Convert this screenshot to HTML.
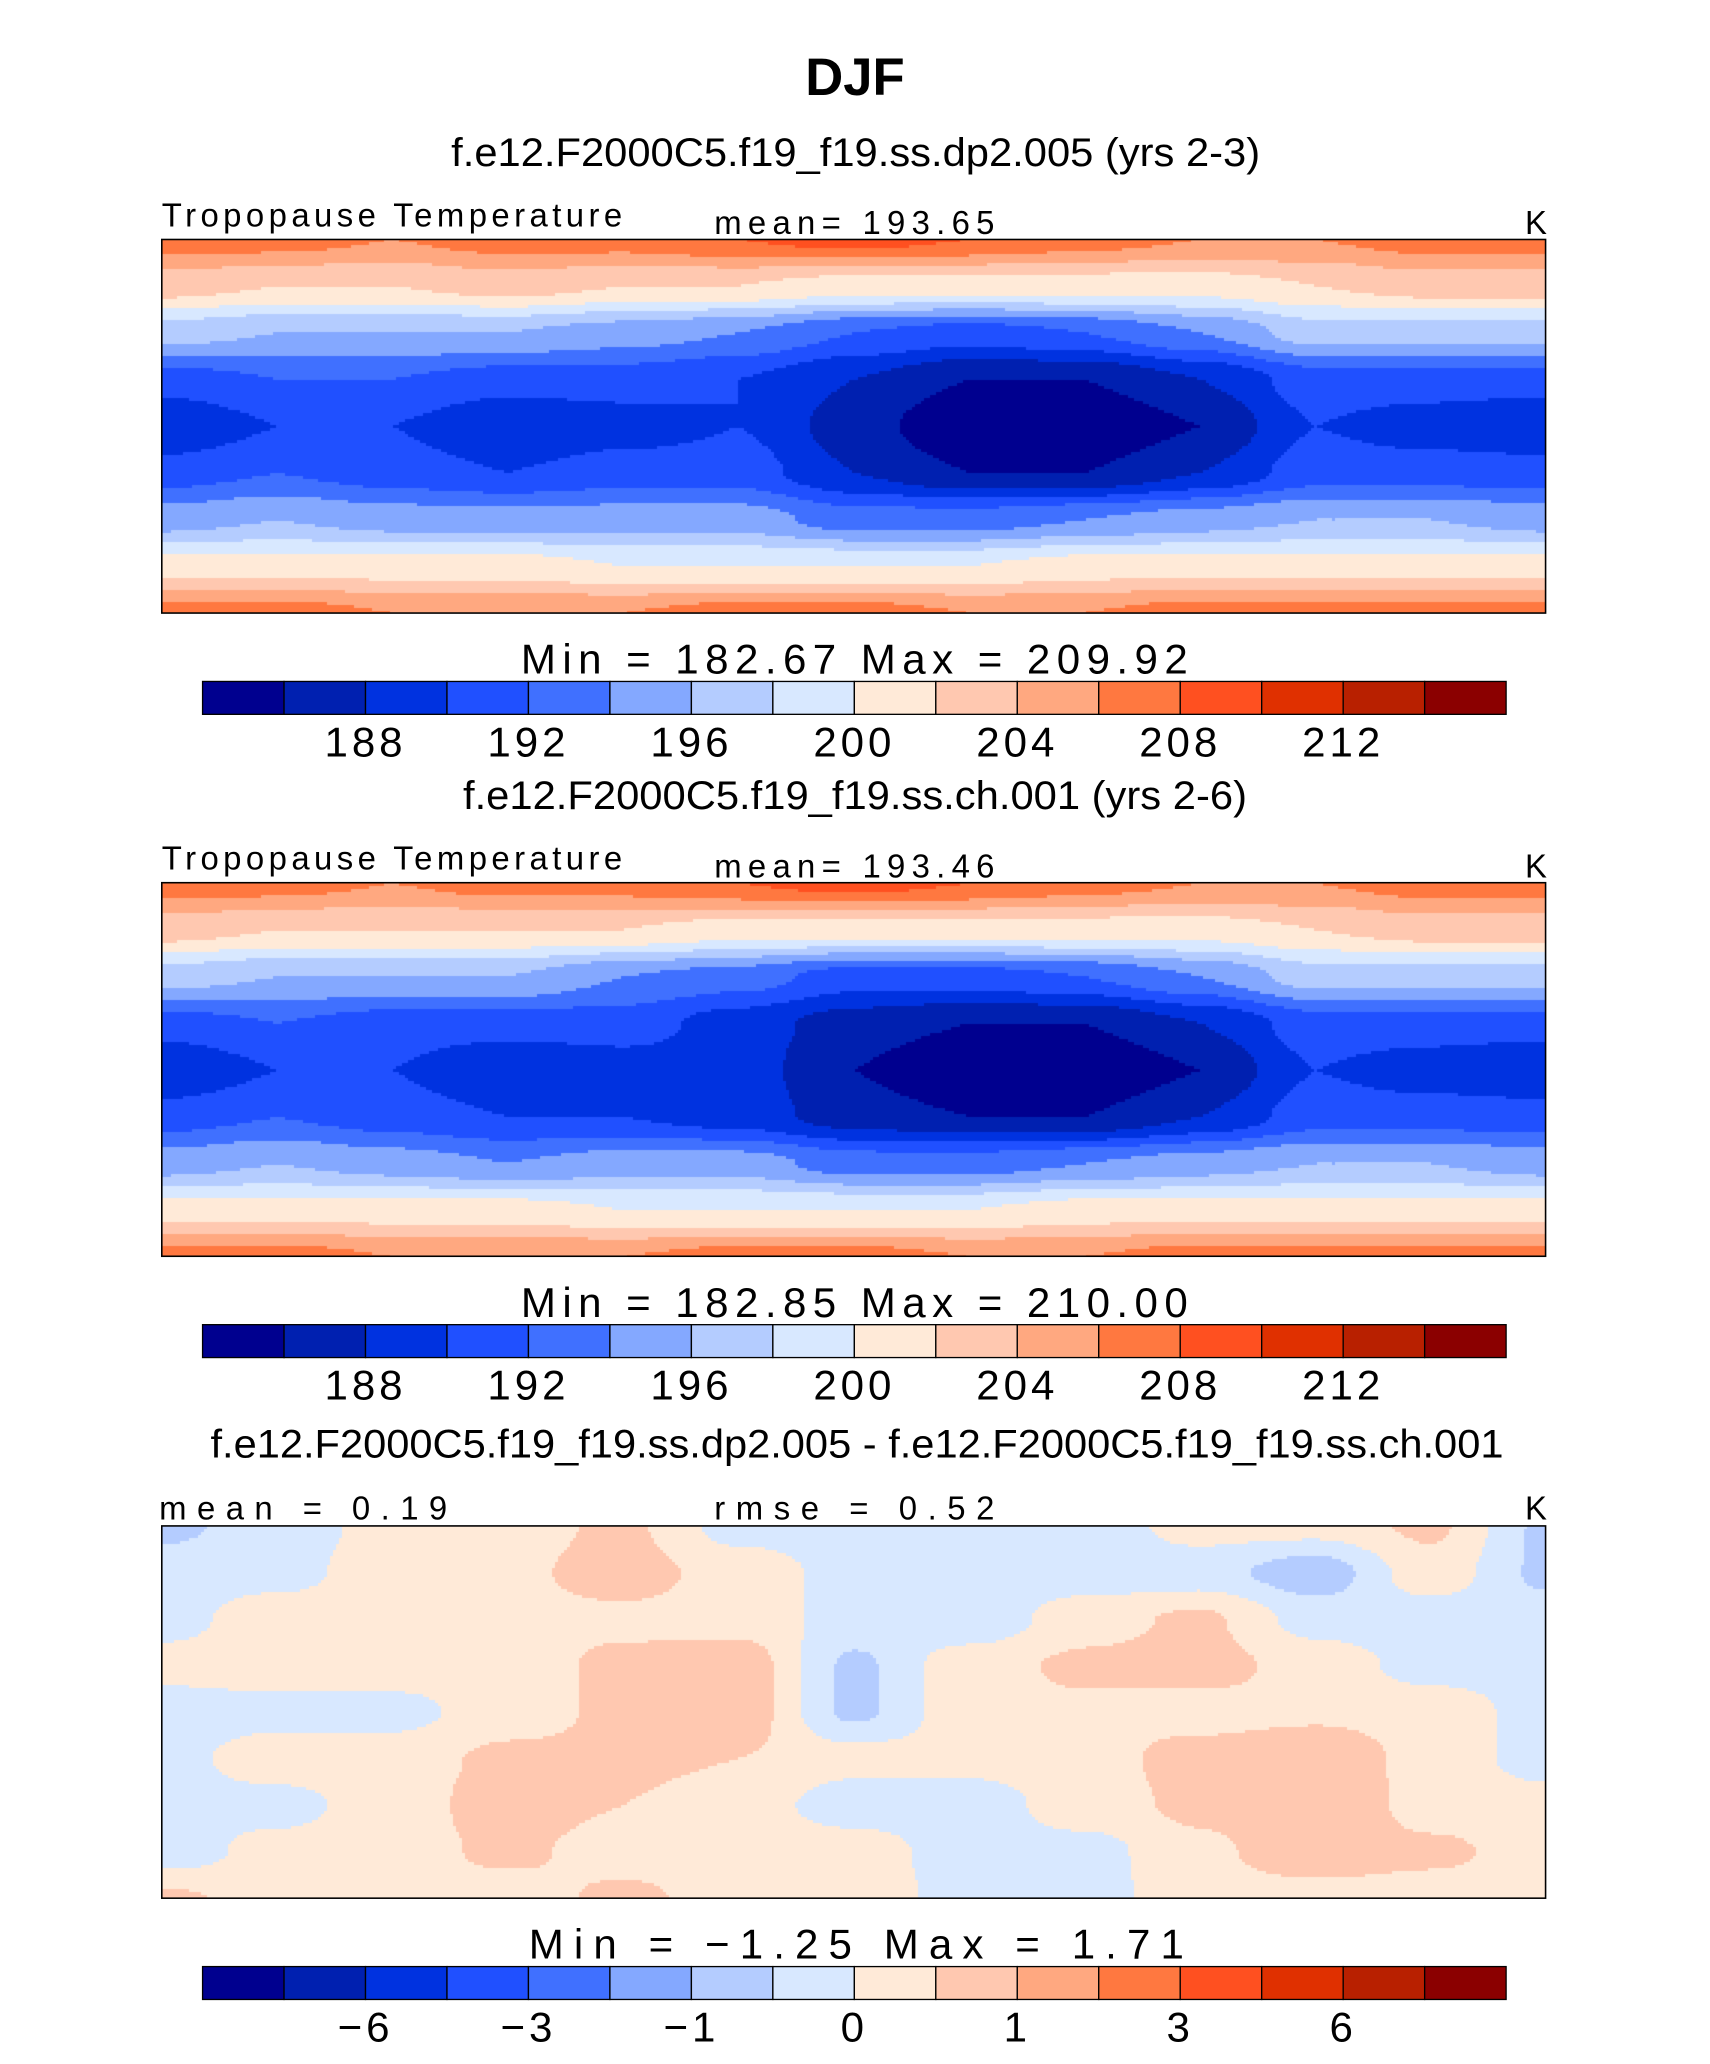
<!DOCTYPE html>
<html><head><meta charset="utf-8">
<style>
html,body{margin:0;padding:0;background:#fff;}
#wrap{position:relative;width:1710px;height:2064px;overflow:hidden;}
svg{position:absolute;left:0;top:0;}
canvas{position:absolute;}
</style></head>
<body>
<div id="wrap">
<canvas id="m1"></canvas>
<canvas id="m2"></canvas>
<canvas id="m3"></canvas>
<svg id="ov" width="1710" height="2064" viewBox="0 0 1300 1569" font-family="Liberation Sans, sans-serif">
<text x="650" y="72" font-size="40" font-weight="bold" text-anchor="middle">DJF</text>
<text x="343" y="126" font-size="30" textLength="615" lengthAdjust="spacingAndGlyphs">f.e12.F2000C5.f19_f19.ss.dp2.005 (yrs 2-3)</text>
<text x="123" y="172" font-size="25" textLength="350" lengthAdjust="spacing">Tropopause  Temperature</text>
<text x="543" y="178" font-size="25" textLength="213" lengthAdjust="spacing">mean=  193.65</text>
<text x="1176" y="178" font-size="25" text-anchor="end">K</text>
<text x="396" y="512" font-size="32" textLength="507" lengthAdjust="spacing">Min  =  182.67  Max  =  209.92</text>
<text x="352" y="615" font-size="30" textLength="596" lengthAdjust="spacingAndGlyphs">f.e12.F2000C5.f19_f19.ss.ch.001 (yrs 2-6)</text>
<text x="123" y="661" font-size="25" textLength="350" lengthAdjust="spacing">Tropopause  Temperature</text>
<text x="543" y="667" font-size="25" textLength="213" lengthAdjust="spacing">mean=  193.46</text>
<text x="1176" y="667" font-size="25" text-anchor="end">K</text>
<text x="396" y="1001" font-size="32" textLength="507" lengthAdjust="spacing">Min  =  182.85  Max  =  210.00</text>
<text x="160" y="1108" font-size="30" textLength="983" lengthAdjust="spacingAndGlyphs">f.e12.F2000C5.f19_f19.ss.dp2.005 - f.e12.F2000C5.f19_f19.ss.ch.001</text>
<text x="121" y="1155" font-size="25" textLength="219" lengthAdjust="spacing">mean  =     0.19</text>
<text x="543" y="1155" font-size="25" textLength="213" lengthAdjust="spacing">rmse  =     0.52</text>
<text x="1176" y="1155" font-size="25" text-anchor="end">K</text>
<text x="402" y="1489" font-size="32" textLength="498" lengthAdjust="spacing">Min  =    −1.25  Max  =     1.71</text>
<g id="bars"></g>
<rect x="123" y="182" width="1052" height="284" fill="none" stroke="#000" stroke-width="1.2"/>
<rect x="123" y="671" width="1052" height="284" fill="none" stroke="#000" stroke-width="1.2"/>
<rect x="123" y="1160" width="1052" height="283" fill="none" stroke="#000" stroke-width="1.2"/>
</svg>
</div>
<script>
const colors=["#00008f","#0020b0","#0032e0","#2050ff","#4070ff","#84a8ff","#b4ccff","#d8e8ff","#ffead8","#ffc8b0","#ffa880","#ff7840","#ff5020","#e03000","#b82000","#8b0000"];
const levelsT=[186,188,190,192,194,196,198,200,202,204,206,208,210,212,214];
const levelsD=[-8,-6,-4,-3,-2,-1,-0.5,0,0.5,1,2,3,4,6,8];
const tickLabelsT=["188","192","196","200","204","208","212"];
const tickLabelsD=["−6","−3","−1","0","1","3","6"];
const field1=[
[207,207,206,207,207,208,209,208,207,206,206,207,207],
[203,202,202,203,202,202,201,201,201,201,202,203,203],
[197,196,196,196,195,194,192,191,192,194,197,197,197],
[191,192,192,191,191,190,188,186,186,188,191,191,191],
[188,190,190,188,189,190,187,184,184,186,190,189,188],
[191,192,191,190,191,191,188,186,186,188,191,191,191],
[195,196,195,195,195,195,193,193,194,195,196,196,195],
[201,201,201,201,200,200,200,200,201,201,201,201,201],
[207,207,206,206,206,207,207,206,206,207,207,207,207]];
const field2=[
[207,207,206,207,207,208,209,208,207,206,206,207,207],
[203,202,202,202,202,201,201,201,201,201,202,203,203],
[197,196,196,196,194,193,191,191,192,194,197,197,197],
[191,192,191,191,191,189,187,186,186,188,191,191,191],
[188,190,190,188,189,189,186,184,184,186,190,189,188],
[191,192,191,190,190,189,187,186,186,188,191,191,191],
[195,196,195,194,195,195,193,193,194,195,196,196,195],
[201,201,201,201,200,200,200,200,201,201,201,201,201],
[207,207,206,206,206,207,207,206,206,207,207,207,207]];
const fieldD=[
[-0.6,-0.3,0.2,0.3,0.6,-0.2,-0.3,-0.3,-0.3,0.2,0.2,0.6,-0.6],
[-0.3,-0.2,0.3,0.4,0.7,0.3,-0.2,-0.3,-0.3,-0.3,-0.8,0.3,-0.6],
[-0.2,0.3,0.4,0.4,0.4,0.3,-0.2,-0.4,0.3,0.6,-0.2,-0.3,-0.3],
[0.2,0.3,0.3,0.3,0.6,0.8,-0.6,0.3,0.6,0.7,0.3,-0.2,-0.2],
[-0.3,-0.2,-0.2,0.3,0.6,0.8,-0.6,0.3,0.4,0.3,0.4,0.3,-0.2],
[-0.2,0.3,0.3,0.6,0.6,0.5,0.2,0.2,0.3,0.7,0.9,0.3,-0.2],
[-0.2,-0.2,0.3,0.7,0.5,0.3,-0.3,-0.3,0.3,0.6,1.0,0.3,0.2],
[-0.3,0.2,0.3,0.6,0.3,0.3,0.3,-0.3,-0.2,0.4,0.8,0.6,0.3],
[0.6,0.3,0.3,0.3,0.6,0.3,0.3,-0.2,-0.2,0.3,0.3,0.3,0.3]];

const S=1710/1300;
function colorFor(v,lv){let i=0;while(i<lv.length&&v>=lv[i])i++;return colors[i];}
function sample(f,u,v){
  const nr=f.length-1,nc=f[0].length-1;
  const x=u*nc,y=v*nr;let i=Math.min(Math.floor(y),nr-1),j=Math.min(Math.floor(x),nc-1);
  let fy=y-i,fx=x-j;
  fx=fx*fx*(3-2*fx);fy=fy*fy*(3-2*fy);
  return f[i][j]*(1-fx)*(1-fy)+f[i][j+1]*fx*(1-fy)+f[i+1][j]*(1-fx)*fy+f[i+1][j+1]*fx*fy;
}
function drawMap(id,f,lv,x0,y0,w,h){
  const c=document.getElementById(id);
  const W=Math.round(w*S),H=Math.round(h*S);
  c.width=W;c.height=H;c.style.left=Math.round(x0*S)+'px';c.style.top=Math.round(y0*S)+'px';
  const ctx=c.getContext('2d');const cs=3;
  for(let y=0;y<H;y+=cs)for(let x=0;x<W;x+=cs){
    ctx.fillStyle=colorFor(sample(f,(x+cs/2)/W,(y+cs/2)/H),lv);
    ctx.fillRect(x,y,cs,cs);
  }
}
drawMap('m1',field1,levelsT,123,182,1052,284);
drawMap('m2',field2,levelsT,123,671,1052,284);
drawMap('m3',fieldD,levelsD,123,1160,1052,283);

const NS='http://www.w3.org/2000/svg';
const g=document.getElementById('bars');
function colorbar(y,labels,ly){
  const x0=154,x1=1145,cw=(x1-x0)/colors.length;
  colors.forEach((col,k)=>{
    const r=document.createElementNS(NS,'rect');
    r.setAttribute('x',x0+k*cw);r.setAttribute('y',y);r.setAttribute('width',cw);r.setAttribute('height',25);
    r.setAttribute('fill',col);r.setAttribute('stroke','#000');r.setAttribute('stroke-width','1');
    
    
    g.appendChild(r);
  });
  labels.forEach((t,k)=>{
    const tx=document.createElementNS(NS,'text');
    tx.setAttribute('x',x0+(2+2*k)*cw);tx.setAttribute('y',ly);tx.setAttribute('font-size','32');
    tx.setAttribute('text-anchor','middle');tx.setAttribute('letter-spacing','3');tx.textContent=t;
    
    
    g.appendChild(tx);
  });
}
colorbar(518,tickLabelsT,575);
colorbar(1007,tickLabelsT,1064);
colorbar(1495,tickLabelsD,1552);
</script>
</body></html>
